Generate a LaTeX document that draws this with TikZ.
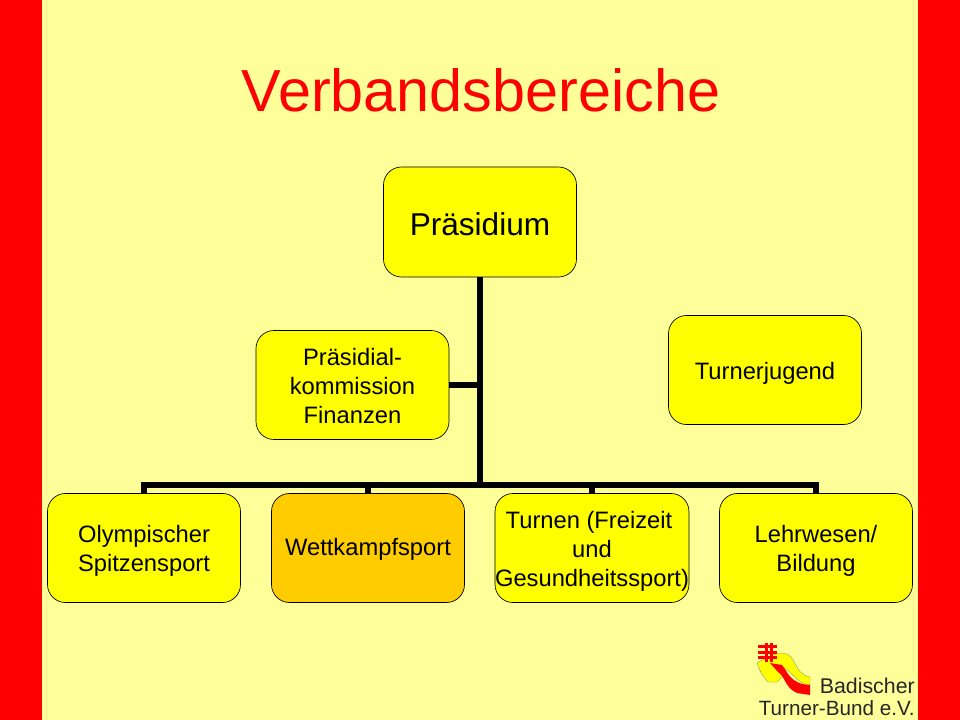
\documentclass[tikz,border=0pt]{standalone}
\usepackage{fontspec}
\setmainfont{Liberation Sans}
\definecolor{bgy}{HTML}{FFFF99}
\definecolor{barred}{HTML}{FF0000}
\definecolor{boxy}{HTML}{FFFF00}
\definecolor{boxo}{HTML}{FFCC00}
\newcommand\topgap[1]{\rule{0pt}{#1}}
\tikzset{
 orgbox/.style={draw=black,line width=0.5pt,fill=boxy,rounded corners=13.5pt,inner sep=0pt,align=center,minimum width=144.75pt,minimum height=81.75pt,font=\fontsize{17.8}{21.6}\selectfont},
 link/.style={line width=4pt,draw=black,line cap=butt,line join=miter}
}
\begin{document}
\begin{tikzpicture}[x=0.75pt,y=-0.75pt]
\useasboundingbox (0,0) rectangle (960,720);
\fill[bgy] (0,0) rectangle (960,720);
\fill[barred] (0,0) rectangle (42,720);
\fill[barred] (918,0) rectangle (960,720);
\node[text=barred,font=\fontsize{44.5}{44.5}\selectfont] (title) at (481,90) {Verbandsbereiche};
\node[orgbox,minimum width=144.75pt,minimum height=82.5pt,font=\fontsize{23.7}{28}\selectfont] (pres) at (480,222) {\topgap{20.5pt}Präsidium};
\node[orgbox] (kom) at (352.5,385) {\topgap{14.5pt}Präsidial-\\kommission\\Finanzen};
\node[orgbox] (jug) at (765,370) {\topgap{17.5pt}Turnerjugend};
\node[orgbox] (a) at (144,548) {\topgap{17.5pt}Olympischer\\Spitzensport};
\node[orgbox,fill=boxo] (b) at (368,548) {\topgap{14.5pt}Wettkampfsport};
\node[orgbox] (c) at (592,548) {\topgap{17.5pt}Turnen (Freizeit\rule{4.5pt}{0pt}\\und\\Gesundheitssport)};
\node[orgbox] (d) at (816,548) {\topgap{17.5pt}Lehrwesen/\\Bildung};
\coordinate (bus) at (480,485);
\draw[link] (pres.south) -- (bus);
\draw[link] (kom.east) -- (kom.east -| pres.south);
\draw[link] (bus) -| (a.north);
\draw[link] (bus) -| (b.north);
\draw[link] (bus) -| (c.north);
\draw[link] (bus) -| (d.north);
% logo
\fill[boxy,draw=black!50,line width=0.2pt] (757,663) .. controls (765,658) and (775,653) .. (783,653) .. controls (797,654) and (793,674) .. (810,677) -- (810,685) .. controls (796,684) and (790,668) .. (782,668) -- (782,677) -- (777,682) -- (768,682) .. controls (763,677) and (759,670) .. (757,663) -- cycle;
\fill[barred] (770,663) -- (782,665) .. controls (788,672) and (790,684) .. (810,685) -- (810,695) -- (797,693) .. controls (785,688) and (785,676) .. (778,672) -- cycle;
\fill[barred] (758,645) rectangle (777,648);
\fill[barred] (758,650.5) rectangle (777,653.5);
\fill[barred] (758,656) rectangle (777,659);
\fill[barred] (765,643) rectangle (768,662);
\fill[barred] (770,643) rectangle (773,662);
\node[anchor=east,inner sep=0pt,text=black!85,font=\fontsize{16}{16}\selectfont] (lg1) at (915,686) {Badischer};
\node[anchor=east,inner sep=0pt,text=black!85,font=\fontsize{15.5}{16}\selectfont] (lg2) at (915,708) {Turner-Bund e.V.};
\end{tikzpicture}
\end{document}
